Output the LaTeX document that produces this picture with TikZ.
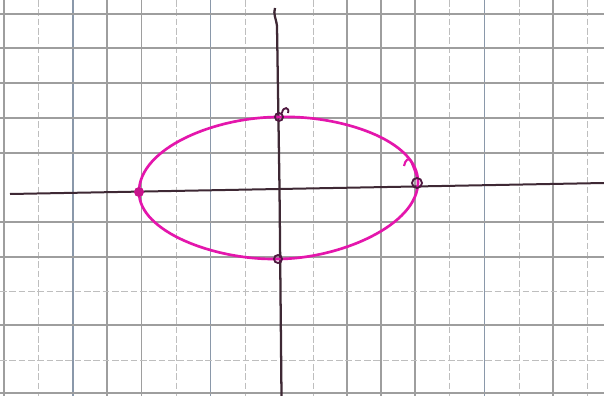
\documentclass[tikz,border=0pt]{standalone}
\usepackage{tikz}

\begin{document}
\begin{tikzpicture}[x=0.75pt,y=0.75pt,yscale=-1,xscale=1,
  gridline/.style={color={rgb, 255:red, 158; green, 158; blue, 158 }, line width=0.9},
  gridblue/.style={color={rgb, 255:red, 138; green, 152; blue, 170 }, line width=0.9},
  gridlight/.style={color={rgb, 255:red, 190; green, 190; blue, 190 }, line width=0.7, dash pattern={on 5pt off 2pt}},
  axisline/.style={color={rgb, 255:red, 62; green, 40; blue, 52 }, line width=1.5},
  ellipseline/.style={color={rgb, 255:red, 228; green, 22; blue, 172 }, line width=2},
  pointmark/.style={color={rgb, 255:red, 80; green, 25; blue, 65 }, line width=1.4}]
\useasboundingbox (0,0) rectangle (604,396);
\fill [white] (0,0) rectangle (604,396);

%Grid Lines (vertical)
\draw [gridline]  (4,0) -- (4,396) ;
\draw [gridlight] (38.5,0) -- (38.5,396) ;
\draw [gridblue]  (73,0) -- (73,396) ;
\draw [gridline]  (107,0) -- (107,396) ;
\draw [gridline]  (141.5,0) -- (141.5,396) ;
\draw [gridlight] (176,0) -- (176,396) ;
\draw [gridblue]  (210.5,0) -- (210.5,396) ;
\draw [gridlight] (245,0) -- (245,396) ;
\draw [gridlight] (313,0) -- (313,396) ;
\draw [gridline]  (347,0) -- (347,396) ;
\draw [gridline]  (381,0) -- (381,396) ;
\draw [gridline]  (415,0) -- (415,396) ;
\draw [gridlight] (449.5,0) -- (449.5,396) ;
\draw [gridblue]  (484.5,0) -- (484.5,396) ;
\draw [gridlight] (519,0) -- (519,396) ;
\draw [gridline]  (553,0) -- (553,396) ;
\draw [gridlight] (587.5,0) -- (587.5,396) ;
%Grid Lines (horizontal)
\draw [gridline]  (0,14) -- (604,14) ;
\draw [gridline]  (0,48) -- (604,48) ;
\draw [gridline]  (0,83) -- (604,83) ;
\draw [gridline]  (0,118) -- (604,118) ;
\draw [gridline]  (0,153) -- (604,153) ;
\draw [gridline]  (0,222) -- (604,222) ;
\draw [gridline]  (0,257) -- (604,257) ;
\draw [gridlight] (0,291.5) -- (604,291.5) ;
\draw [gridline]  (0,325) -- (604,325) ;
\draw [gridlight] (0,360) -- (604,360) ;
\draw [gridline]  (0,393) -- (604,393) ;

%Straight Lines (axes)
\draw [axisline]  (10,194) -- (279,189) -- (604,183) ;
\draw [axisline, line width=1.7]  (275,8) .. controls (273,14) and (276,18) .. (277,26) -- (279.5,188) -- (281.5,396) ;

%Curve Lines (ellipse)
\draw [ellipseline]  (139,192) .. controls (139,148) and (215,117) .. (279,117) .. controls (340,115) and (418,140) .. (418,182) .. controls (418,225) and (340,259) .. (277,259) .. controls (215,260) and (139,232) .. (139,192) -- cycle ;
%Curve Lines (hook at right vertex)
\draw [ellipseline, line width=1.6]  (404,166) .. controls (405,160) and (409,157) .. (411,161) .. controls (413,166) and (415,171) .. (417,177) ;

%Shape: Circles (vertices)
\fill [color={rgb, 255:red, 200; green, 20; blue, 140 }]  (139,192) circle (5) ;
\draw [pointmark]  (279,117) circle (4) ;
\draw [pointmark]  (282,113) .. controls (283,106) and (290,107) .. (288,113) ;
\draw [pointmark]  (417,183) circle (5) ;
\draw [pointmark]  (278,259) circle (4) ;

\end{tikzpicture}
\end{document}
